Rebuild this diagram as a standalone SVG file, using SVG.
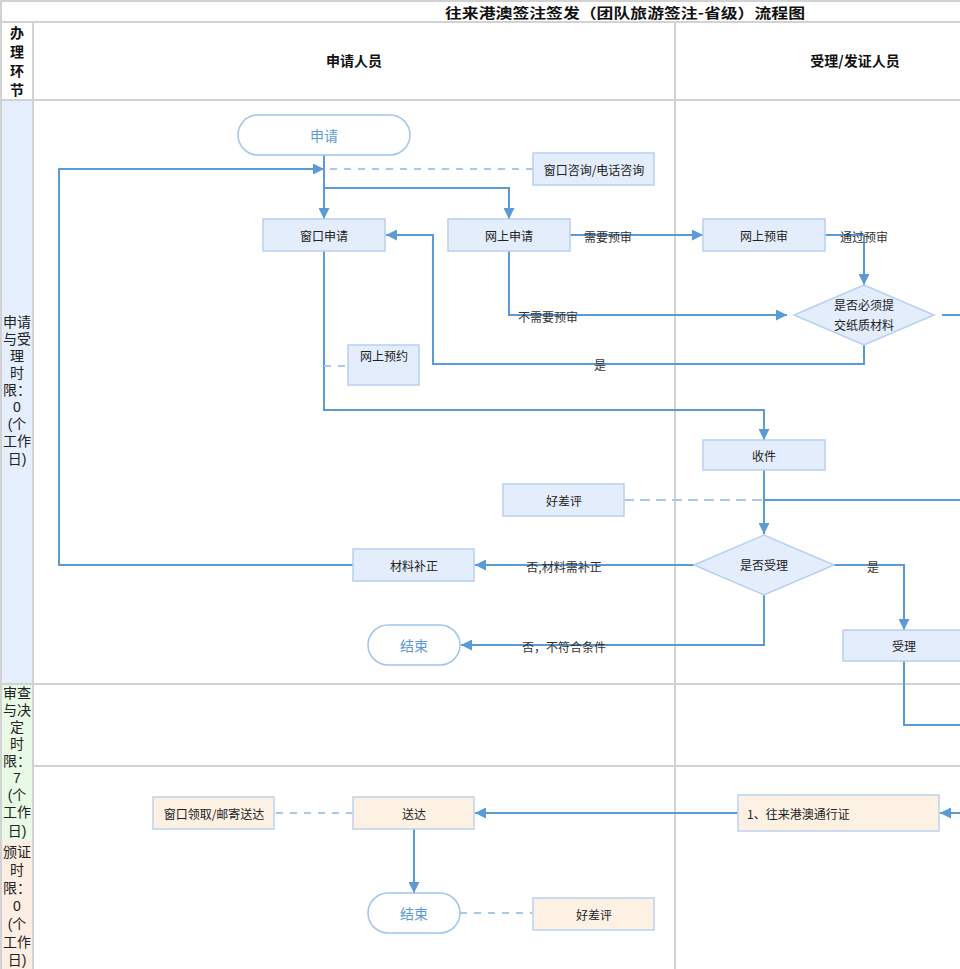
<svg xmlns="http://www.w3.org/2000/svg" width="960" height="969" viewBox="0 0 960 969">
<style>
text{font-family:"Noto Sans CJK SC","Noto Sans",sans-serif;}
.grid{stroke:#d2d2d2;stroke-width:2;fill:none;}
.hdr{font-size:14px;font-weight:bold;fill:#111;text-anchor:middle;}
.lane{font-family:"Liberation Sans","Noto Sans CJK SC",sans-serif;font-size:14px;fill:#222;text-anchor:middle;}
.vh{font-family:"Liberation Sans","Noto Sans CJK SC",sans-serif;}
.box{fill:#e3edfc;stroke:#b6d0f0;stroke-width:1.5;}
.pbox{fill:#fdf1e4;stroke:#bcd3ee;stroke-width:1.5;}
.pill{fill:#fff;stroke:#9fc5ec;stroke-width:1.5;}
.t{font-size:12px;fill:#222;text-anchor:middle;dominant-baseline:central;}
.tb{font-size:14px;fill:#5b9bd5;text-anchor:middle;dominant-baseline:central;}
.lbl{font-size:12px;fill:#333;text-anchor:middle;dominant-baseline:central;}
.c{stroke:#5b9bd5;stroke-width:2;fill:none;}
.d{stroke:#a8c9ec;stroke-width:2;fill:none;stroke-dasharray:7,7;}
</style>
<defs>
<marker id="ar" viewBox="0 0 10 10" refX="10" refY="5" markerWidth="5.5" markerHeight="5.5" orient="auto" markerUnits="strokeWidth">
<path d="M0,0 L10,5 L0,10 z" fill="#5b9bd5"/>
</marker>
</defs>
<rect width="960" height="969" fill="#fff"/>
<g id="lanes">
<rect x="1" y="101" width="32" height="583" fill="#e4eefc"/>
<rect x="1" y="685" width="32" height="156" fill="#e8f9e6"/>
<rect x="1" y="841" width="32" height="128" fill="#fdeee3"/>
<path class="grid" d="M0,1 H960 M0,22 H960 M0,100 H960 M0,684 H960 M33,766 H960 M1,0 V969 M33,22 V969 M675,22 V969"/>
<text class="hdr" x="625" y="18" textLength="360" lengthAdjust="spacingAndGlyphs">往来港澳签注签发（团队旅游签注-省级）流程图</text>
<text class="hdr vh" x="17" y="38">办<tspan x="17" dy="19">理</tspan><tspan x="17" dy="19">环</tspan><tspan x="17" dy="19">节</tspan></text>
<text class="hdr" x="354" y="66">申请人员</text>
<text class="hdr" x="855" y="66">受理/发证人员</text>
<text class="lane" x="17" y="327">申请<tspan x="17" dy="17">与受</tspan><tspan x="17" dy="17">理</tspan><tspan x="17" dy="17">时</tspan><tspan x="17" dy="17">限：</tspan><tspan x="17" dy="17">0</tspan><tspan x="17" dy="17">(个</tspan><tspan x="17" dy="17">工作</tspan><tspan x="17" dy="18">日)</tspan></text>
<text class="lane" x="17" y="698">审查<tspan x="17" dy="17">与决</tspan><tspan x="17" dy="17">定</tspan><tspan x="17" dy="17">时</tspan><tspan x="17" dy="17">限：</tspan><tspan x="17" dy="17">7</tspan><tspan x="17" dy="17">(个</tspan><tspan x="17" dy="17">工作</tspan><tspan x="17" dy="19">日)</tspan></text>
<text class="lane" x="17" y="857">颁证<tspan x="17" dy="18">时</tspan><tspan x="17" dy="18">限：</tspan><tspan x="17" dy="18">0</tspan><tspan x="17" dy="18">(个</tspan><tspan x="17" dy="18">工作</tspan><tspan x="17" dy="18">日)</tspan></text>
</g>
<g id="connectors">
<path class="c" d="M324,155 V219" marker-end="url(#ar)"/>
<path class="c" d="M324,188 H509 V219" marker-end="url(#ar)"/>
<path class="c" d="M353,565 H59 V169 H324" marker-end="url(#ar)"/>
<path class="d" d="M330,169 H533"/>
<path class="c" d="M570,235 H703" marker-end="url(#ar)"/>
<path class="c" d="M825,235 H864 V285" marker-end="url(#ar)"/>
<path class="c" d="M509,251 V315 H787" marker-end="url(#ar)"/>
<path class="c" d="M864,345 V364 H433 V235 H386" marker-end="url(#ar)"/>
<path class="c" d="M942,315 H960"/>
<path class="c" d="M324,251 V410 H764 V440" marker-end="url(#ar)"/>
<path class="d" d="M324,366 H348"/>
<path class="c" d="M764,470 V534" marker-end="url(#ar)"/>
<path class="d" d="M624,500 H764" style="stroke-dasharray:10,6"/>
<path class="c" d="M764,500 H960"/>
<path class="c" d="M694,565 H475" marker-end="url(#ar)"/>
<path class="c" d="M834,565 H904 V630" marker-end="url(#ar)"/>
<path class="c" d="M764,594 V645 H461" marker-end="url(#ar)"/>
<path class="c" d="M904,661 V725 H960"/>
<path class="c" d="M960,813 H940" marker-end="url(#ar)"/>
<path class="c" d="M738,813 H475" marker-end="url(#ar)"/>
<path class="d" d="M353,813 H274"/>
<path class="c" d="M414,829 V893" marker-end="url(#ar)"/>
<path class="d" d="M460,913 H533"/>
<text class="lbl" x="608" y="236">需要预审</text>
<text class="lbl" x="864" y="236">通过预审</text>
<text class="lbl" x="548" y="316">不需要预审</text>
<text class="lbl" x="600" y="364">是</text>
<text class="lbl" x="564" y="566">否,材料需补正</text>
<text class="lbl" x="873" y="566">是</text>
<text class="lbl" x="564" y="646">否，不符合条件</text>
</g>
<g id="n-shenqing"><rect class="pill" x="238" y="115" width="172" height="40" rx="20"/><text class="tb" x="324" y="135">申请</text></g>
<g id="n-zixun"><rect class="box" x="533" y="153" width="121" height="32"/><text class="t" x="594" y="169">窗口咨询/电话咨询</text></g>
<g id="n-chuangkou"><rect class="box" x="263" y="219" width="122" height="32"/><text class="t" x="324" y="235">窗口申请</text></g>
<g id="n-wangshang"><rect class="box" x="448" y="219" width="122" height="32"/><text class="t" x="509" y="235">网上申请</text></g>
<g id="n-yushen"><rect class="box" x="703" y="219" width="122" height="32"/><text class="t" x="764" y="235">网上预审</text></g>
<g id="n-zhizhi"><polygon class="box" points="794,315 864,285 934,315 864,345"/><text class="t" x="864" y="304">是否必须提</text><text class="t" x="864" y="324">交纸质材料</text></g>
<g id="n-yuyue"><rect class="box" x="348" y="345" width="71" height="40"/><text class="t" x="384" y="355">网上预约</text></g>
<g id="n-shoujian"><rect class="box" x="703" y="440" width="122" height="30"/><text class="t" x="764" y="455">收件</text></g>
<g id="n-haocha1"><rect class="box" x="503" y="484" width="121" height="32"/><text class="t" x="564" y="500">好差评</text></g>
<g id="n-shouli-q"><polygon class="box" points="694,565 764,535 834,565 764,595"/><text class="t" x="764" y="564">是否受理</text></g>
<g id="n-buzheng"><rect class="box" x="353" y="549" width="121" height="32"/><text class="t" x="414" y="565">材料补正</text></g>
<g id="n-end1"><rect class="pill" x="368" y="625" width="92" height="40" rx="20"/><text class="tb" x="414" y="645">结束</text></g>
<g id="n-shouli"><rect class="box" x="843" y="630" width="122" height="31"/><text class="t" x="904" y="645">受理</text></g>
<g id="n-lingqu"><rect class="pbox" x="153" y="797" width="121" height="32"/><text class="t" x="214" y="813">窗口领取/邮寄送达</text></g>
<g id="n-songda"><rect class="pbox" x="353" y="797" width="121" height="32"/><text class="t" x="414" y="813">送达</text></g>
<g id="n-txz"><rect class="pbox" x="738" y="795" width="201" height="36"/><text class="t" x="747" y="813" style="text-anchor:start">1、往来港澳通行证</text></g>
<g id="n-end2"><rect class="pill" x="368" y="893" width="92" height="40" rx="20"/><text class="tb" x="414" y="913">结束</text></g>
<g id="n-haocha2"><rect class="pbox" x="533" y="898" width="121" height="32"/><text class="t" x="594" y="914">好差评</text></g>
</svg>
